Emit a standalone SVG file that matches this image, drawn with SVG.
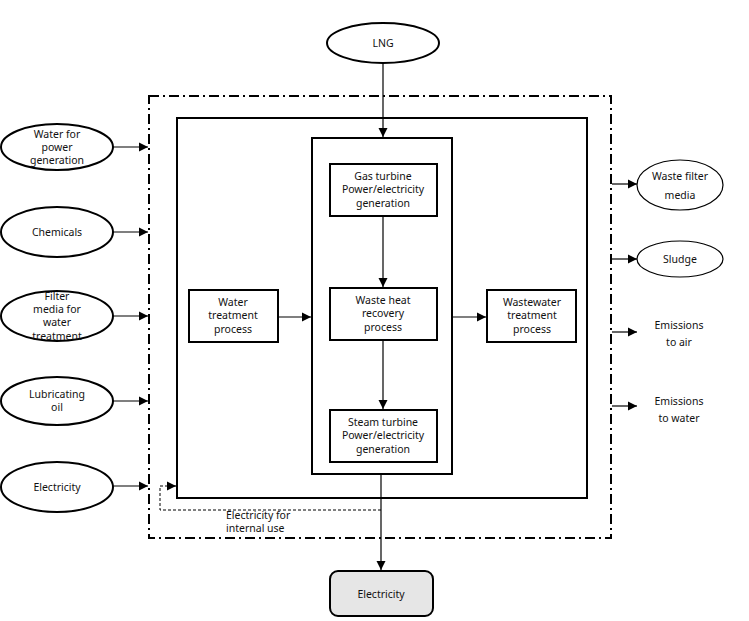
<svg xmlns="http://www.w3.org/2000/svg" width="749" height="621" viewBox="0 0 749 621">
<defs>
<marker id="ah" markerWidth="10" markerHeight="10" refX="9" refY="5" orient="auto" markerUnits="userSpaceOnUse">
<path d="M0,0.5 L9,5 L0,9.5 Z" fill="#000"/>
</marker>
</defs>
<style>
text{font-family:"Noto Sans","Open Sans","DejaVu Sans",sans-serif;font-size:10.5px;fill:#111;text-anchor:middle}
.n{fill:#fff;stroke:#000;stroke-width:2}
.t{fill:#fff;stroke:#000;stroke-width:1.2}
.c{fill:none;stroke:#000;stroke-width:1.2}
</style>
<rect width="749" height="621" fill="#fff"/>
<g id="boundary">
<rect x="149" y="96" width="462" height="442" fill="none" stroke="#000" stroke-width="2" stroke-dasharray="10,4,2,4"/>
</g>
<g id="plant">
<rect x="177" y="118" width="410" height="380" fill="none" stroke="#000" stroke-width="2"/>
</g>
<g id="core">
<rect x="312" y="138" width="140" height="336" fill="none" stroke="#000" stroke-width="2"/>
</g>
<g id="connectors">
<line class="c" x1="383" y1="63" x2="383" y2="137" marker-end="url(#ah)"/>
<line class="c" x1="383" y1="216" x2="383" y2="287" marker-end="url(#ah)"/>
<line class="c" x1="383" y1="340" x2="383" y2="409" marker-end="url(#ah)"/>
<line class="c" x1="278" y1="317" x2="311" y2="317" marker-end="url(#ah)"/>
<line class="c" x1="452" y1="317" x2="486" y2="317" marker-end="url(#ah)"/>
<line class="c" x1="381" y1="475" x2="381" y2="570" marker-end="url(#ah)"/>
<polyline fill="none" stroke="#000" stroke-width="1" stroke-dasharray="3,2" points="381,510 160,510 160,486 168,486"/>
<line class="c" x1="168" y1="486" x2="176" y2="486" marker-end="url(#ah)"/>
<line class="c" x1="113" y1="147" x2="148" y2="147" marker-end="url(#ah)"/>
<line class="c" x1="113" y1="232" x2="148" y2="232" marker-end="url(#ah)"/>
<line class="c" x1="113" y1="316" x2="148" y2="316" marker-end="url(#ah)"/>
<line class="c" x1="113" y1="401" x2="148" y2="401" marker-end="url(#ah)"/>
<line class="c" x1="113" y1="486" x2="148" y2="486" marker-end="url(#ah)"/>
<line class="c" x1="612" y1="184" x2="637" y2="184" marker-end="url(#ah)"/>
<line class="c" x1="612" y1="259" x2="637" y2="259" marker-end="url(#ah)"/>
<line class="c" x1="612" y1="332" x2="637" y2="332" marker-end="url(#ah)"/>
<line class="c" x1="612" y1="406" x2="637" y2="406" marker-end="url(#ah)"/>
<text x="226" y="519" style="text-anchor:start">Electricity for</text>
<text x="226" y="532" style="text-anchor:start">internal use</text>
</g>
<g id="lng">
<ellipse class="n" cx="383" cy="43" rx="56" ry="20"/>
<text x="383" y="47">LNG</text>
</g>
<g id="gas-turbine">
<rect class="n" x="330" y="164" width="107" height="52"/>
<text x="383" y="180">Gas turbine</text>
<text x="383" y="193">Power/electricity</text>
<text x="383" y="207">generation</text>
</g>
<g id="waste-heat">
<rect class="n" x="330" y="288" width="107" height="52"/>
<text x="383" y="304">Waste heat</text>
<text x="383" y="317">recovery</text>
<text x="383" y="331">process</text>
</g>
<g id="steam-turbine">
<rect class="n" x="330" y="410" width="107" height="52"/>
<text x="383" y="426">Steam turbine</text>
<text x="383" y="439">Power/electricity</text>
<text x="383" y="453">generation</text>
</g>
<g id="water-treatment">
<rect class="n" x="189" y="290" width="89" height="52"/>
<text x="233" y="306">Water</text>
<text x="233" y="319">treatment</text>
<text x="233" y="333">process</text>
</g>
<g id="wastewater-treatment">
<rect class="n" x="487" y="290" width="89" height="52"/>
<text x="532" y="306">Wastewater</text>
<text x="532" y="319">treatment</text>
<text x="532" y="333">process</text>
</g>
<g id="electricity-out">
<rect x="330" y="571" width="103" height="45" rx="8" fill="#e6e6e6" stroke="#000" stroke-width="2"/>
<text x="381" y="598">Electricity</text>
</g>
<g id="in-water">
<ellipse class="n" cx="57" cy="147" rx="56" ry="23"/>
<text x="57" y="138">Water for</text>
<text x="57" y="151">power</text>
<text x="57" y="164">generation</text>
</g>
<g id="in-chemicals">
<ellipse class="n" cx="57" cy="232" rx="56" ry="25"/>
<text x="57" y="236">Chemicals</text>
</g>
<g id="in-filter">
<ellipse class="n" cx="57" cy="316" rx="56" ry="25"/>
<text x="57" y="300">Filter</text>
<text x="57" y="313">media for</text>
<text x="57" y="326">water</text>
<text x="57" y="340">treatment</text>
</g>
<g id="in-lube">
<ellipse class="n" cx="57" cy="401" rx="56" ry="24"/>
<text x="57" y="398">Lubricating</text>
<text x="57" y="411">oil</text>
</g>
<g id="in-electricity">
<ellipse class="n" cx="57" cy="487" rx="56" ry="25"/>
<text x="57" y="491">Electricity</text>
</g>
<g id="out-filter">
<ellipse class="t" cx="680" cy="185" rx="43" ry="25"/>
<text x="680" y="180">Waste filter</text>
<text x="680" y="199">media</text>
</g>
<g id="out-sludge">
<ellipse class="t" cx="680" cy="259" rx="43" ry="18"/>
<text x="680" y="263">Sludge</text>
</g>
<g id="out-air">
<text x="679" y="329">Emissions</text>
<text x="679" y="346">to air</text>
</g>
<g id="out-water">
<text x="679" y="405">Emissions</text>
<text x="679" y="422">to water</text>
</g>
</svg>
